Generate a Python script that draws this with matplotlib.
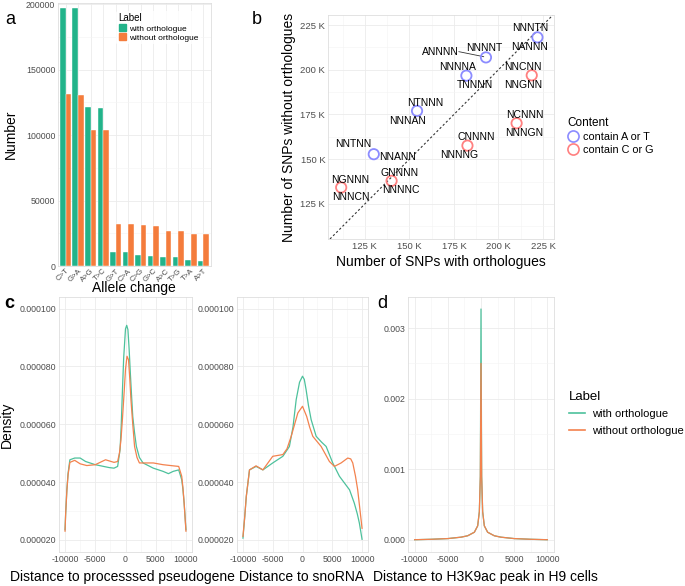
import numpy as np
import matplotlib
matplotlib.use("Agg")
from matplotlib import pyplot as plt
from matplotlib.patches import Patch
from matplotlib.lines import Line2D
from matplotlib.ticker import MultipleLocator, FuncFormatter

plt.rcParams['font.family'] = ['Liberation Sans', 'DejaVu Sans']
plt.rcParams['axes.unicode_minus'] = False

# ---- panel a: allele changes
alleles = ['C>T', 'G>A', 'A>G', 'T>C', 'G>T', 'C>A', 'C>G', 'G>C', 'A>C', 'T>G', 'T>A', 'A>T']
with_orth = [197500, 197500, 121600, 120500, 10600, 10500, 8100, 8000, 7100, 7000, 4300, 4200]
without_orth = [131300, 131000, 103900, 103800, 32400, 32200, 31000, 30700, 26600, 26400, 24400, 24100]

# ---- panel b: motif counts (thousands)
motif_top = ['NNNTN', 'ANNNN', 'NNNNA', 'NNCNN', 'NTNNN', 'NCNNN', 'CNNNN', 'NNTNN', 'GNNNN', 'NGNNN']
motif_bot = ['NANNN', 'NNNNT', 'TNNNN', 'NNGNN', 'NNNAN', 'NNNGN', 'NNNNG', 'NNANN', 'NNNNC', 'NNNCN']
snp_with = [221.9, 193.0, 182.0, 218.7, 154.3, 210.2, 182.6, 130.0, 140.0, 111.7]
snp_without = [218.1, 206.9, 196.7, 196.9, 177.0, 170.1, 157.6, 152.8, 137.9, 134.2]
content = ['AT', 'AT', 'AT', 'CG', 'AT', 'CG', 'CG', 'AT', 'CG', 'CG']
# label anchor positions (thousands)
top_pos = [(217.6, 223.1), (167.2, 210.1), (176.9, 201.7), (213.9, 201.7), (158.9, 181.6),
           (214.8, 174.9), (187.4, 162.3), (118.5, 158.4), (144.4, 142.5), (117.0, 138.4)]
bot_pos = [(217.6, 212.9), (192.2, 212.0), (187.0, 191.5), (213.9, 191.7), (149.1, 171.6),
           (214.4, 164.9), (177.8, 152.4), (143.5, 151.1), (145.0, 132.9), (117.0, 129.1)]

# ---- panel c: density near processed pseudogene (x 1e-6)
pg_x_with = [-10000, -9900, -9700, -9500, -9200, -8400, -7500, -6600, -5000, -2700, -1900, -1300, -900, -700,
             -500, -300, 0, 200, 400, 600, 800, 1000, 1200, 1500, 1800, 2300, 2900, 4600, 6200, 7100, 7900,
             8800, 9300, 9500, 9700, 10000]
pg_y_with = [23.5, 29.0, 37.3, 43.0, 47.7, 48.3, 48.3, 47.1, 46.0, 45.0, 44.8, 45.4, 51.2, 60.0,
             72.0, 83.0, 93.0, 94.2, 92.7, 86.0, 77.7, 70.0, 62.7, 57.0, 52.3, 48.5, 46.6, 44.8, 43.7, 42.9,
             43.7, 44.2, 40.8, 37.5, 32.7, 23.5]
pg_x_without = [-10000, -9900, -9700, -9500, -9200, -8400, -7500, -6400, -5000, -3300, -1900, -1300, -1000,
                -750, -500, -200, 0, 250, 500, 700, 900, 1200, 1500, 1900, 2300, 4600, 6200, 7900, 8800,
                9300, 9500, 9700, 10000]
pg_y_without = [23.0, 29.0, 37.0, 42.5, 46.8, 47.5, 46.3, 45.7, 46.0, 47.7, 46.8, 47.1, 50.0, 54.6,
                62.0, 71.9, 79.0, 83.5, 82.3, 76.0, 68.5, 60.0, 52.3, 48.5, 46.6, 46.6, 46.0, 45.6, 45.4,
                42.0, 38.0, 32.7, 23.0]

# ---- panel c: density near snoRNA (x 1e-6)
sn_x_with = [-10000, -9700, -9440, -8900, -7800, -6650, -5000, -3300, -2200, -1600, -1060, -500, 0, 300, 600,
             1000, 1450, 2300, 3200, 3970, 5080, 6200, 7900, 8700, 9200, 9550, 10000]
sn_y_with = [20.6, 28.0, 35.0, 44.2, 45.4, 44.2, 46.6, 48.9, 52.3, 59.0, 68.5, 74.5, 76.6, 75.5, 72.0,
             66.5, 61.6, 55.8, 53.8, 52.3, 46.6, 42.0, 37.3, 32.7, 29.0, 25.8, 20.2]
sn_x_without = [-10000, -9700, -9440, -8900, -7800, -6650, -5000, -3300, -2600, -1900, -780, 0, 700, 1200,
                1730, 3130, 4520, 5360, 6480, 7600, 8100, 8440, 8900, 9270, 10000]
sn_y_without = [21.2, 28.0, 35.0, 44.2, 45.6, 44.2, 48.9, 49.5, 51.5, 55.8, 63.9, 66.2, 62.7, 59.0,
                55.8, 52.3, 47.1, 45.4, 46.6, 48.3, 48.0, 46.6, 42.0, 37.3, 24.0]

# ---- panel d: density near H3K9ac peak
h3_x = [-10000, -7500, -5000, -3000, -2000, -1000, -500, -250, -100, 0, 100, 250, 500, 1000, 2000, 3000,
        5000, 7500, 10000]
h3_y_with = [0.000004, 0.000010, 0.000020, 0.000040, 0.000060, 0.000110, 0.000200, 0.000400, 0.000900,
             0.003270, 0.000900, 0.000400, 0.000200, 0.000110, 0.000060, 0.000040, 0.000020, 0.000010, 0.000004]
h3_y_without = [0.000004, 0.000010, 0.000020, 0.000040, 0.000060, 0.000110, 0.000200, 0.000400, 0.000900,
                0.002500, 0.000900, 0.000400, 0.000200, 0.000110, 0.000060, 0.000040, 0.000020, 0.000010, 0.000004]

W, H = 685, 586
fig = plt.figure(figsize=(W / 100, H / 100), dpi=100)

GREEN_BAR, ORANGE_BAR = '#22B38A', '#F47C3C'
GREEN_LINE, ORANGE_LINE = '#4DC19C', '#F3824E'
TICK_C = '#4D4D4D'
GRID_C = '#EBEBEB'


def px_axes(l, t, r, b):
    return fig.add_axes([l / W, 1 - b / H, (r - l) / W, (b - t) / H])


def px_text(x, y, s, **kw):
    return fig.text(x / W, 1 - y / H, s, **kw)


def gg_style(ax):
    ax.set_facecolor('white')
    for s in ax.spines.values():
        s.set_color('#DEDEDE')
        s.set_linewidth(0.6)
    ax.grid(True, which='major', color=GRID_C, lw=0.6)
    ax.grid(True, which='minor', color='#F4F4F4', lw=0.4)
    ax.set_axisbelow(True)
    ax.tick_params(which='both', length=0, labelsize=6.3, labelcolor=TICK_C, pad=2)


# panel a
axa = px_axes(58, 3, 211, 266)
gg_style(axa)
x = np.arange(len(alleles))
axa.bar(x - 0.225, with_orth, width=0.45, color=GREEN_BAR, edgecolor='white', lw=0.3)
axa.bar(x + 0.225, without_orth, width=0.45, color=ORANGE_BAR, edgecolor='white', lw=0.3)
axa.set_xlim(-0.6, 11.6)
axa.set_ylim(0, 201000)
axa.set_xticks(x)
axa.set_xticklabels(alleles, rotation=45, ha='right', rotation_mode='anchor', fontsize=5.6)
axa.tick_params(axis='x', pad=1)
axa.yaxis.set_major_locator(MultipleLocator(50000))
axa.yaxis.set_minor_locator(MultipleLocator(25000))
axa.grid(False, axis='x', which='minor')
px_text(134, 288, 'Allele change', fontsize=10, ha='center', va='center')
axa.set_ylabel('Number', fontsize=10, labelpad=6)
leg = axa.legend(handles=[Patch(color=GREEN_BAR, label='with orthologue'),
                          Patch(color=ORANGE_BAR, label='without orthologue')],
                 title='Label', loc='upper left', bbox_to_anchor=(0.38, 0.97), frameon=True,
                 fontsize=6, title_fontsize=7, handlelength=0.9, handleheight=0.9,
                 handletextpad=0.4, labelspacing=0.1, borderpad=0.3, borderaxespad=0)
leg.get_frame().set_edgecolor('none')
leg._legend_box.align = 'left'
px_text(5, 24, 'a', fontsize=13)

# panel b
axb = px_axes(328, 15, 554, 239)
gg_style(axb)
axb.set_xlim(104.3, 231.2)
axb.set_ylim(105.4, 230.6)
for a_ in (axb.xaxis, axb.yaxis):
    a_.set_major_locator(MultipleLocator(25))
    a_.set_minor_locator(MultipleLocator(12.5))
    a_.set_major_formatter(FuncFormatter(lambda v, p: '%d K' % v))
axb.tick_params(labelsize=6.8)
axb.axline((110, 110), slope=1, color='#333333', lw=0.8, dashes=(2, 2))
col = {'AT': '#8C8CFF', 'CG': '#FF8080'}
for i in range(len(snp_with)):
    axb.scatter(snp_with[i], snp_without[i], s=55, facecolors='none', edgecolors=col[content[i]], lw=1.3, zorder=3)
    axb.text(top_pos[i][0], top_pos[i][1], motif_top[i], fontsize=7.5, ha='center', va='center', zorder=4)
    axb.text(bot_pos[i][0], bot_pos[i][1], motif_bot[i], fontsize=7.5, ha='center', va='center', zorder=4)
# leader line for ANNNN
axb.plot([177.8, 191.7], [210.1, 207.3], color='#333333', lw=0.6)
axb.set_xlabel('Number of SNPs with orthologues', fontsize=10, labelpad=3)
axb.set_ylabel('Number of SNPs without orthologues', fontsize=10, labelpad=3)
fig.legend(handles=[Line2D([], [], ls='none', marker='o', ms=8, mfc='none', mec=col['AT'], mew=1.2,
                           label='contain A or T'),
                    Line2D([], [], ls='none', marker='o', ms=8, mfc='none', mec=col['CG'], mew=1.2,
                           label='contain C or G')],
           title='Content', loc='upper left', bbox_to_anchor=(562 / W, 1 - 112 / H), frameon=False,
           fontsize=7.8, title_fontsize=8.5, handlelength=1.0, handletextpad=0.4, labelspacing=0.25,
           borderpad=0, alignment='left')
px_text(252, 24, 'b', fontsize=13)


def density_axes(ax):
    gg_style(ax)
    ax.set_xlim(-11000, 11000)
    ax.xaxis.set_major_locator(MultipleLocator(5000))
    ax.xaxis.set_minor_locator(MultipleLocator(2500))


# panel c, first
axc1 = px_axes(59, 297, 192, 552)
density_axes(axc1)
axc1.plot(pg_x_with, np.array(pg_y_with) * 1e-6, color=GREEN_LINE, lw=0.9)
axc1.plot(pg_x_without, np.array(pg_y_without) * 1e-6, color=ORANGE_LINE, lw=0.9)
axc1.set_ylabel('Density', fontsize=10, labelpad=4)
px_text(122, 577, 'Distance to processsed pseudogene', fontsize=10, ha='center', va='center')

axc2 = px_axes(237, 297, 368, 552)
density_axes(axc2)
axc2.plot(sn_x_with, np.array(sn_y_with) * 1e-6, color=GREEN_LINE, lw=0.9)
axc2.plot(sn_x_without, np.array(sn_y_without) * 1e-6, color=ORANGE_LINE, lw=0.9)
px_text(302, 577, 'Distance to snoRNA', fontsize=10, ha='center', va='center')

for ax in (axc1, axc2):
    ax.set_ylim(0.0000158, 0.000104)
    ax.yaxis.set_major_locator(MultipleLocator(0.00002))
    ax.yaxis.set_minor_locator(MultipleLocator(0.00001))
    ax.yaxis.set_major_formatter(FuncFormatter(lambda v, p: '%.6f' % v))
px_text(4, 308, 'c', fontsize=13, fontweight='bold')

# panel d
axd = px_axes(408, 297, 554, 552)
density_axes(axd)
axd.plot(h3_x, h3_y_with, color=GREEN_LINE, lw=0.9)
axd.plot(h3_x, h3_y_without, color=ORANGE_LINE, lw=0.9)
axd.set_ylim(-0.00017, 0.00344)
axd.yaxis.set_major_locator(MultipleLocator(0.001))
axd.yaxis.set_minor_locator(MultipleLocator(0.0005))
axd.yaxis.set_major_formatter(FuncFormatter(lambda v, p: '%.3f' % v))
px_text(485, 577, 'Distance to H3K9ac peak in H9 cells', fontsize=10, ha='center', va='center')
px_text(377, 308, 'd', fontsize=13)
fig.legend(handles=[Line2D([], [], color=GREEN_LINE, lw=1.2, label='with orthologue'),
                    Line2D([], [], color=ORANGE_LINE, lw=1.2, label='without orthologue')],
           title='Label', loc='upper left', bbox_to_anchor=(563 / W, 1 - 385 / H), frameon=False,
           fontsize=8, title_fontsize=9.5, handlelength=1.5, handletextpad=0.6, labelspacing=0.6,
           borderpad=0, alignment='left')

fig.savefig('out.png', dpi=100)
